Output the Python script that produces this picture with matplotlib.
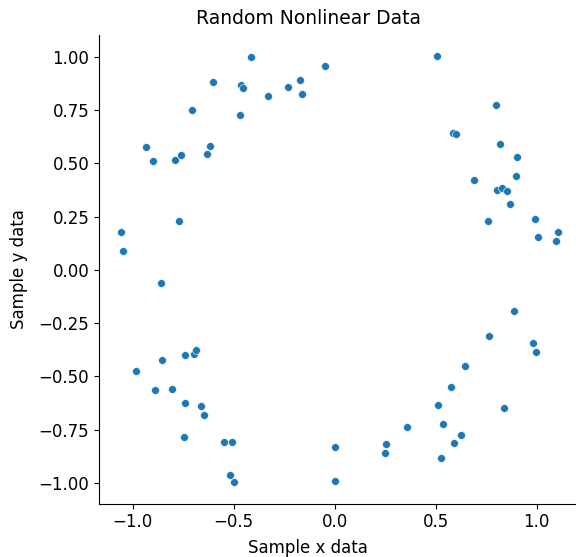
import matplotlib
matplotlib.use("Agg")
import matplotlib.pyplot as plt

x_data = [-0.416, -0.046, -0.602, -0.464, -0.455, -0.231, -0.170, -0.163, -0.328, -0.706,
          -0.467, -0.934, -0.899, -0.792, -0.762, -0.632, -0.615, -0.772, -1.059, -1.046,
          0.505, 0.799, 0.586, 0.599, 0.818, 0.901, 0.899, 0.691, 0.802, 0.830,
          0.855, 0.871, 0.759, 0.993, 1.107, 1.005, 1.097,
          -0.858, -0.853, -0.984, -0.739, -0.698, -0.685, -0.891, -0.807, -0.739, -0.663,
          -0.647, -0.744, -0.548, -0.508, -0.520, -0.498, 0.003, 0.003,
          0.886, 0.766, 0.982, 0.995, 0.644, 0.576, 0.512, 0.837, 0.360, 0.536,
          0.627, 0.592, 0.254, 0.249, 0.525]
y_data = [1.000, 0.956, 0.884, 0.867, 0.853, 0.858, 0.891, 0.827, 0.816, 0.749,
          0.725, 0.578, 0.511, 0.517, 0.539, 0.545, 0.581, 0.230, 0.180, 0.091,
          1.003, 0.772, 0.641, 0.636, 0.591, 0.530, 0.441, 0.420, 0.377, 0.386,
          0.370, 0.311, 0.230, 0.239, 0.178, 0.155, 0.136,
          -0.063, -0.423, -0.475, -0.402, -0.395, -0.375, -0.566, -0.559, -0.624, -0.639,
          -0.683, -0.785, -0.808, -0.809, -0.964, -0.997, -0.830, -0.991,
          -0.191, -0.311, -0.345, -0.386, -0.453, -0.550, -0.634, -0.650, -0.738, -0.723,
          -0.774, -0.813, -0.817, -0.861, -0.883]

title = "Random Nonlinear Data"
xlabel = "Sample x data"
ylabel = "Sample y data"

plt.rcParams['font.family'] = ['DejaVu Sans']
plt.rcParams['font.size'] = 12

W, H = 576, 557
fig = plt.figure(figsize=(W / 100, H / 100), dpi=100)
left, right, top, bottom = 99, 580, 35, 503.5
ax = fig.add_axes([left / W, (H - bottom) / H, (right - left) / W, (bottom - top) / H])

ax.scatter(x_data, y_data, s=32, color='#1f77b4', edgecolor='white', linewidth=0.4, zorder=3)

ax.spines['top'].set_visible(False)
ax.spines['right'].set_visible(False)

cx = (308 - left) / (right - left)
ax.set_title(title, fontsize=13.5, x=cx, pad=8)
ax.set_xlabel(xlabel, fontsize=12)
ax.xaxis.set_label_coords(cx, -0.075)
ax.set_ylabel(ylabel, fontsize=12)
ax.yaxis.set_label_coords((28.5 - left) / (right - left), 0.5)
ax.tick_params(labelsize=12)

fig.savefig("out.png", dpi=100)
